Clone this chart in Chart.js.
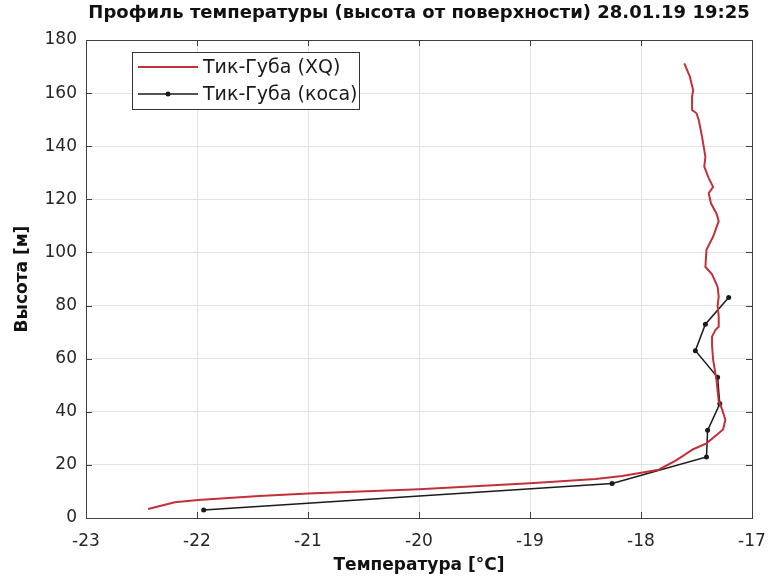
<!DOCTYPE html>
<html>
<head>
<meta charset="utf-8">
<script src="https://cdn.jsdelivr.net/npm/chart.js@4"></script>
<style>
  body { margin: 0; background: #fff; }
  #wrap { width: 773px; height: 581px; }
</style>
</head>
<body>
<div id="wrap"><canvas id="chart"></canvas></div>
<script>
// red profile (XQ): temperature and height
const xqTemp = [-22.44, -22.20, -21.99, -21.44, -21.00, -20.00, -19.00, -18.41, -18.17, -17.84,
  -17.68, -17.53, -17.41, -17.26, -17.24, -17.27, -17.30, -17.32, -17.35, -17.36,
  -17.36, -17.33, -17.30, -17.30, -17.31, -17.30, -17.31, -17.36, -17.42, -17.41,
  -17.35, -17.30, -17.32, -17.37, -17.39, -17.35, -17.39, -17.43, -17.42, -17.45,
  -17.48, -17.50, -17.54, -17.54, -17.53, -17.56, -17.61];
const xqHeight = [3.4, 5.9, 6.8, 8.3, 9.2, 10.8, 13.1, 14.7, 15.8, 18.2,
  21.8, 25.9, 28.1, 33.3, 37, 41, 44, 52, 59.5, 65,
  68.3, 70.8, 72, 76, 80, 83.3, 87.1, 91.8, 94.6, 101,
  106, 111.8, 114.7, 118.5, 122.3, 124.7, 128, 132.3, 136, 143.6,
  149.9, 152.4, 153.6, 158.6, 161.1, 166.2, 171.2];

// black profile (коса)
const kosaTemp = [-21.94, -18.26, -17.41, -17.40, -17.29, -17.31, -17.51, -17.42, -17.21];
const kosaHeight = [3, 13, 23, 33, 43, 53, 63, 73, 83];

const seriesNames = ["Тик-Губа (XQ)", "Тик-Губа (коса)"];
const titleText = "Профиль температуры (высота от поверхности) 28.01.19 19:25";
const xTitle = "Температура [°C]";
const yTitle = "Высота [м]";

function toPoints(xs, ys) {
  let pts = [];
  for (let i = 0; i < xs.length; i++) {
    pts.push({ x: xs[i], y: ys[i] });
  }
  return pts;
}

const FONT = "'DejaVu Sans', 'Liberation Sans', Arial, sans-serif";

// legend box inside the axes + inward ticks, matlab style
const boxPlugin = {
  id: "boxPlugin",
  afterDraw(chart) {
    const ctx = chart.ctx;
    const a = chart.chartArea;
    const xs = chart.scales.x, ys = chart.scales.y;
    ctx.save();
    ctx.strokeStyle = "#404040";
    ctx.lineWidth = 1;
    ctx.beginPath();
    xs.ticks.forEach(t => {
      const px = Math.round(xs.getPixelForValue(t.value)) + 0.5;
      ctx.moveTo(px, a.bottom); ctx.lineTo(px, a.bottom - 6);
      ctx.moveTo(px, a.top); ctx.lineTo(px, a.top + 6);
    });
    ys.ticks.forEach(t => {
      const py = Math.round(ys.getPixelForValue(t.value)) + 0.5;
      ctx.moveTo(a.left, py); ctx.lineTo(a.left + 6, py);
      ctx.moveTo(a.right, py); ctx.lineTo(a.right - 6, py);
    });
    ctx.stroke();
    ctx.strokeRect(Math.round(a.left) + 0.5, Math.round(a.top) + 0.5,
      Math.round(a.right - a.left), Math.round(a.bottom - a.top));

    // legend
    const lx = a.left + 46, ly = a.top + 12, lw = 227, lh = 57;
    ctx.fillStyle = "#fff";
    ctx.fillRect(lx, ly, lw, lh);
    ctx.strokeStyle = "#333";
    ctx.strokeRect(lx + 0.5, ly + 0.5, lw, lh);
    ctx.font = "19px " + FONT;
    ctx.textBaseline = "middle";
    chart.data.datasets.forEach((ds, i) => {
      const y = ly + 15 + i * 27;
      ctx.strokeStyle = ds.borderColor;
      ctx.lineWidth = ds.borderWidth;
      ctx.beginPath();
      ctx.moveTo(lx + 6, y); ctx.lineTo(lx + 66, y);
      ctx.stroke();
      if (ds.pointRadius > 0) {
        ctx.fillStyle = ds.pointBackgroundColor;
        ctx.beginPath();
        ctx.arc(lx + 36, y, ds.pointRadius, 0, Math.PI * 2);
        ctx.fill();
      }
      ctx.fillStyle = "#1a1a1a";
      ctx.fillText(ds.label, lx + 71, y + 1);
    });
    ctx.restore();
  }
};

let myChart = new Chart(document.getElementById("chart").getContext("2d"), {
  type: "scatter",
  data: {
    datasets: [{
      label: seriesNames[0],
      data: toPoints(xqTemp, xqHeight),
      showLine: true,
      borderColor: "#c4303a",
      borderWidth: 2,
      pointRadius: 0,
      pointBackgroundColor: "#c4303a"
    }, {
      label: seriesNames[1],
      data: toPoints(kosaTemp, kosaHeight),
      showLine: true,
      borderColor: "#1a1a1a",
      borderWidth: 1.5,
      pointRadius: 2.5,
      pointBackgroundColor: "#1a1a1a",
      pointBorderWidth: 0
    }]
  },
  options: {
    responsive: true,
    maintainAspectRatio: false,
    animation: false,
    layout: { padding: { left: 0, right: 21, top: 0, bottom: 0 } },
    plugins: {
      legend: { display: false },
      tooltip: { enabled: false },
      title: {
        display: true,
        fullSize: false,
        text: titleText,
        color: "#111",
        font: { family: FONT, size: 18, weight: "bold" },
        padding: { top: 3, bottom: 15.4 }
      }
    },
    scales: {
      x: {
        type: "linear",
        min: -23,
        max: -17,
        afterFit: s => { s.height = 63; s.paddingLeft = 0; s.paddingRight = 0; },
        ticks: { stepSize: 1, color: "#262626", padding: 13, font: { family: FONT, size: 17 } },
        grid: { color: "#e3e3e3", drawTicks: false },
        border: { display: false },
        title: {
          display: true,
          text: xTitle,
          color: "#111",
          font: { family: FONT, size: 17, weight: "bold" },
          padding: { top: 0, bottom: 4.8 }
        }
      },
      y: {
        type: "linear",
        min: 0,
        max: 180,
        afterFit: s => { s.width = 86; s.paddingTop = 0; s.paddingBottom = 0; },
        ticks: { stepSize: 20, color: "#262626", padding: 9, font: { family: FONT, size: 17 } },
        grid: { color: "#e3e3e3", drawTicks: false },
        border: { display: false },
        title: {
          display: true,
          text: yTitle,
          color: "#111",
          font: { family: FONT, size: 17, weight: "bold" },
          padding: { top: 12, bottom: 0 }
        }
      }
    }
  },
  plugins: [boxPlugin]
});
</script>
</body>
</html>
